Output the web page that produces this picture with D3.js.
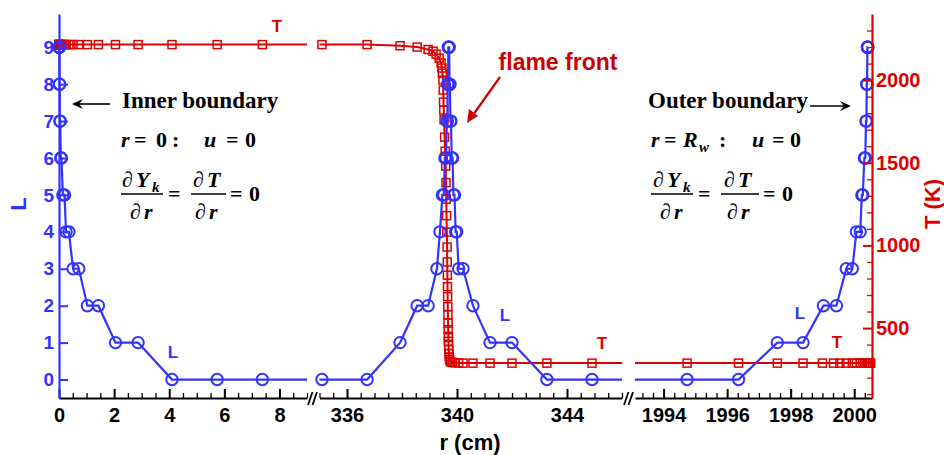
<!DOCTYPE html>
<html>
<head>
<meta charset="utf-8">
<script src="https://cdn.jsdelivr.net/npm/d3@7"></script>
<style>
  body { margin: 0; background: #fff; }
  svg text { font-family: "Liberation Sans", Arial, sans-serif; font-weight: bold; }
  svg text.math { font-family: "Liberation Serif", "Times New Roman", serif; font-weight: bold; }
</style>
</head>
<body>
<div id="chart"></div>
<script>
// broken r axis: three windows
var segDomains = [[0, 9], [335, 346], [1993.1, 2000.56]]
var segTicks = [[0, 2, 4, 6, 8], [336, 340, 344], [1994, 1996, 1998, 2000]]
var levelTicks = [0, 1, 2, 3, 4, 5, 6, 7, 8, 9]
var tempTicks = [500, 1000, 1500, 2000]

// L (refinement level) at the cell centres
var rL = [
  0.0016, 0.0048, 0.008, 0.0112, 0.016, 0.0224, 0.032, 0.045, 0.064, 0.09,
  0.14, 0.2, 0.256, 0.359, 0.51, 0.72, 1.03, 1.43, 2.05, 2.87, 4.1, 5.74, 7.38,
  335.09, 336.73, 337.93, 338.55, 338.95, 339.27, 339.38, 339.47, 339.52,
  339.56, 339.6, 339.63, 339.65, 339.665, 339.675, 339.685, 339.695, 339.705, 339.715,
  339.73, 339.745, 339.76, 339.78, 339.81, 339.84, 339.87, 339.91, 339.95, 339.99,
  340.06, 340.22, 340.58, 341.2, 342.0, 343.27, 344.91,
  1994.74, 1996.36, 1997.58, 1998.39, 1999.03, 1999.44, 1999.75, 1999.94,
  2000.07, 2000.19, 2000.24, 2000.27, 2000.32, 2000.35, 2000.37, 2000.385,
  2000.395, 2000.405, 2000.415, 2000.42, 2000.425, 2000.43
]
var levelL = [
  9, 9, 9, 9, 8, 8, 7, 7, 6, 6,
  5, 5, 4, 4, 3, 3, 2, 2, 1, 1, 0, 0, 0,
  0, 0, 1, 2, 2, 3, 4, 5, 5,
  6, 6, 7, 7, 8, 8, 9, 9, 9, 9,
  8, 8, 7, 7, 6, 6, 5, 5, 4, 4,
  3, 3, 2, 1, 1, 0, 0,
  0, 0, 1, 1, 2, 2, 3, 3,
  4, 4, 5, 5, 6, 6, 7, 7,
  8, 8, 9, 9, 9, 9
]

// temperature (K) at the cell centres
var rT = [
  0.0016, 0.0048, 0.008, 0.0112, 0.016, 0.0224, 0.032, 0.045, 0.064, 0.09,
  0.14, 0.2, 0.256, 0.359, 0.51, 0.72, 1.03, 1.43, 2.05, 2.87, 4.1, 5.74, 7.38,
  335.09, 336.73, 337.93, 338.55, 338.95, 339.13, 339.24, 339.35, 339.42, 339.45,
  339.47, 339.49, 339.5, 339.51, 339.52, 339.53, 339.55, 339.57, 339.59, 339.6,
  339.61, 339.62, 339.63, 339.64, 339.645, 339.65, 339.655, 339.66, 339.665, 339.67,
  339.675, 339.68, 339.685, 339.69, 339.695, 339.7, 339.71, 339.72, 339.73, 339.75,
  339.78, 339.84, 339.93, 340.06, 340.22, 340.58, 341.2, 342.0, 343.27, 344.91,
  1994.74, 1996.36, 1997.58, 1998.39, 1999.0, 1999.35, 1999.55, 1999.75, 1999.94,
  2000.07, 2000.19, 2000.26, 2000.32, 2000.37, 2000.41, 2000.44, 2000.47, 2000.5, 2000.52
]
var tempT = [
  2215, 2215, 2215, 2215, 2215, 2215, 2215, 2215, 2215, 2215,
  2215, 2215, 2215, 2215, 2215, 2215, 2215, 2215, 2215, 2215, 2215, 2215, 2215,
  2215, 2215, 2208, 2200, 2185, 2175, 2157, 2133, 2103, 2073,
  2042, 2000, 1940, 1867, 1819, 1760, 1655, 1570, 1480, 1380,
  1280, 1180, 1080, 990, 900, 820, 750, 690, 630, 580,
  530, 490, 450, 420, 395, 370, 345, 325, 310, 300,
  295, 292, 290, 289, 288, 288, 288, 288, 288, 288,
  288, 288, 288, 288, 288, 288, 288, 288, 288,
  288, 288, 288, 288, 288, 288, 288, 288, 288, 288
]

var colorL = "#3333ff"
var colorT = "#dd0000"

var dimensions = { width: 944, height: 455, left: 59, right: 872, top: 14, bottom: 398 }
var segRanges = [[59, 307], [319.5, 622], [635, 872]]
var segMinorStep = [0.5, 0.5, 1 / 3]

var svg = d3.select("#chart").append("svg")
  .attr("width", dimensions.width)
  .attr("height", dimensions.height)

var xScales = segDomains.map((d, i) => d3.scaleLinear().domain(d).range(segRanges[i]))
var yL = d3.scaleLinear().domain([-0.5, 9.9]).range([dimensions.bottom, dimensions.top])
var yT = d3.scaleLinear().domain([77, 2400]).range([dimensions.bottom, dimensions.top])

var ptsL = rL.map((r, i) => [r, levelL[i]])
var ptsT = rT.map((r, i) => [r, tempT[i]])

// clip each window so the lines stop at the breaks
var defs = svg.append("defs")
segRanges.forEach((rg, i) => {
  defs.append("clipPath").attr("id", "clip" + i)
    .append("rect")
    .attr("x", i == 0 ? rg[0] - 8 : rg[0])
    .attr("y", 0)
    .attr("width", rg[1] - rg[0] + (i == 0 ? 8 : 0))
    .attr("height", dimensions.height)
})

segDomains.forEach((dom, i) => {
  var x = xScales[i]
  var inside = p => p[0] >= dom[0] && p[0] <= dom[1]

  // T
  svg.append("path")
    .attr("clip-path", `url(#clip${i})`)
    .attr("d", d3.line().x(d => x(d[0])).y(d => yT(d[1]))(ptsT))
    .attr("fill", "none")
    .attr("stroke", colorT)
    .attr("stroke-width", 2)
  svg.append("g").selectAll("rect")
    .data(ptsT.filter(inside))
    .join("rect")
    .attr("x", d => x(d[0]) - 4)
    .attr("y", d => yT(d[1]) - 4)
    .attr("width", 8)
    .attr("height", 8)
    .attr("fill", "none")
    .attr("stroke", colorT)
    .attr("stroke-width", 1.5)
})

segDomains.forEach((dom, i) => {
  var x = xScales[i]
  var inside = p => p[0] >= dom[0] && p[0] <= dom[1]

  // L
  svg.append("path")
    .attr("clip-path", `url(#clip${i})`)
    .attr("d", d3.line().x(d => x(d[0])).y(d => yL(d[1]))(ptsL))
    .attr("fill", "none")
    .attr("stroke", colorL)
    .attr("stroke-width", 2.2)
  svg.append("g").selectAll("circle")
    .data(ptsL.filter(inside))
    .join("circle")
    .attr("cx", d => x(d[0]))
    .attr("cy", d => yL(d[1]))
    .attr("r", 5.7)
    .attr("fill", "none")
    .attr("stroke", colorL)
    .attr("stroke-width", 2)
})

// bottom axes, one per window
segDomains.forEach((dom, i) => {
  var x = xScales[i]
  var minor = d3.range(dom[0], dom[1] + 1e-6, segMinorStep[i])
    .map(v => Math.round(v * 1000) / 1000)
    .filter(v => !segTicks[i].includes(v))
  if (i == 2) minor = d3.range(1993 + 1 / 3, dom[1], 1 / 3).filter(v => v >= dom[0] && Math.abs(v - Math.round(v / 2) * 2) > 0.01)

  var ax = svg.append("g")
    .attr("transform", `translate(0,${dimensions.bottom})`)
    .call(d3.axisBottom(x).tickValues(segTicks[i]).tickFormat(d3.format("d"))
      .tickSizeInner(-9).tickSizeOuter(0).tickPadding(10))
  ax.selectAll("text").attr("font-size", 20).attr("fill", "#000").attr("font-family", null)
  ax.select(".domain").attr("stroke-width", 2)
  ax.selectAll(".tick line").attr("stroke-width", 2)

  var mx = svg.append("g")
    .attr("transform", `translate(0,${dimensions.bottom})`)
    .call(d3.axisBottom(x).tickValues(minor).tickSizeInner(-5).tickSizeOuter(0).tickFormat(""))
  mx.select(".domain").remove()
  mx.selectAll(".tick line").attr("stroke-width", 1.3)
})

// break marks
;[308, 624].forEach(bx => {
  [0, 4.5].forEach(off => {
    svg.append("line")
      .attr("x1", bx + off).attr("y1", 405)
      .attr("x2", bx + off + 4.5).attr("y2", 392)
      .attr("stroke", "#000").attr("stroke-width", 1.8)
  })
})

// L axis (left)
var axL = svg.append("g")
  .attr("transform", `translate(${dimensions.left},0)`)
  .call(d3.axisLeft(yL).tickValues(levelTicks).tickSizeInner(-9).tickSizeOuter(0).tickPadding(5))
axL.selectAll("text").attr("font-size", 19).attr("fill", colorL).attr("font-family", null)
axL.select(".domain").attr("stroke", colorL).attr("stroke-width", 2.2)
axL.selectAll(".tick line").attr("stroke", colorL).attr("stroke-width", 2)

// T axis (right)
var axT = svg.append("g")
  .attr("transform", `translate(${dimensions.right},0)`)
  .call(d3.axisRight(yT).tickValues(tempTicks).tickFormat(d3.format("d"))
    .tickSizeInner(-9).tickSizeOuter(0).tickPadding(4))
axT.selectAll("text").attr("font-size", 20).attr("fill", colorT).attr("font-family", null)
axT.select(".domain").attr("stroke", colorT).attr("stroke-width", 2.2)
axT.selectAll(".tick line").attr("stroke", colorT).attr("stroke-width", 2)
var axTm = svg.append("g")
  .attr("transform", `translate(${dimensions.right},0)`)
  .call(d3.axisRight(yT).tickValues(d3.range(100, 2400, 100).filter(v => !tempTicks.includes(v)))
    .tickSizeInner(-5).tickSizeOuter(0).tickFormat(""))
axTm.select(".domain").remove()
axTm.selectAll(".tick line").attr("stroke", colorT).attr("stroke-width", 1.3)

// axis titles
svg.append("text")
  .attr("transform", "translate(26,204) rotate(-90)")
  .attr("text-anchor", "middle")
  .attr("font-size", 22)
  .attr("fill", colorL)
  .text("L")
svg.append("text")
  .attr("transform", "translate(940,204) rotate(-90)")
  .attr("text-anchor", "middle")
  .attr("font-size", 22)
  .attr("fill", colorT)
  .text("T (K)")
svg.append("text")
  .attr("x", 470).attr("y", 450)
  .attr("text-anchor", "middle")
  .attr("font-size", 22)
  .attr("fill", "#000")
  .text("r (cm)")

// series labels
var seriesLabels = [
  ["T", 277, 32, colorT], ["L", 173, 358, colorL],
  ["L", 505, 321, colorL], ["T", 602, 349, colorT],
  ["L", 800, 319, colorL], ["T", 837, 348, colorT]
]
seriesLabels.forEach(s => {
  svg.append("text")
    .attr("x", s[1]).attr("y", s[2])
    .attr("text-anchor", "middle")
    .attr("font-size", 17)
    .attr("fill", s[3])
    .text(s[0])
})

// flame front
svg.append("text")
  .attr("x", 558).attr("y", 70)
  .attr("text-anchor", "middle")
  .attr("font-size", 23)
  .attr("fill", "#cc0000")
  .text("flame front")
svg.append("line")
  .attr("x1", 500).attr("y1", 77).attr("x2", 473).attr("y2", 115)
  .attr("stroke", "#cc0000").attr("stroke-width", 2.2)
svg.append("path")
  .attr("d", "M467,123 L469,109 L478,116 Z")
  .attr("fill", "#cc0000")

// boundary notes
function piece(x, y, t, italic, size) {
  return svg.append("text")
    .attr("class", "math")
    .attr("x", x).attr("y", y)
    .attr("font-size", size || 22)
    .attr("font-style", italic ? "italic" : null)
    .attr("fill", "#000")
    .text(t)
}
function fracBar(x1, x2, y) {
  svg.append("line")
    .attr("x1", x1).attr("x2", x2).attr("y1", y).attr("y2", y)
    .attr("stroke", "#000").attr("stroke-width", 1.6)
}
function arrow(x1, x2, y) {
  var dir = x2 > x1 ? 1 : -1
  svg.append("line")
    .attr("x1", x1).attr("x2", x2 - dir * 6).attr("y1", y).attr("y2", y)
    .attr("stroke", "#000").attr("stroke-width", 1.6)
  svg.append("path")
    .attr("d", `M${x2},${y} L${x2 - dir * 11},${y - 5} L${x2 - dir * 7},${y} L${x2 - dir * 11},${y + 5} Z`)
    .attr("fill", "#000")
}

// inner
piece(122, 108, "Inner boundary", false, 23)
arrow(110, 72, 104)
piece(121, 147, "r", true); piece(134, 147, "="); piece(156, 147, "0"); piece(172, 147, ":")
piece(204, 147, "u", true); piece(226, 147, "="); piece(245, 147, "0")
piece(122, 187, "\u2202", true); piece(136, 187, "Y", true); piece(152, 192, "k", true, 15)
fracBar(121, 163, 194)
piece(130, 219, "\u2202", true); piece(144, 219, "r", true)
piece(168, 201, "=")
piece(193, 187, "\u2202", true); piece(207, 187, "T", true)
fracBar(191, 226, 194)
piece(195, 219, "\u2202", true); piece(209, 219, "r", true)
piece(230, 201, "="); piece(249, 201, "0")

// outer
piece(648, 108, "Outer boundary", false, 23)
arrow(810, 851, 106)
piece(651, 147, "r", true); piece(664, 147, "="); piece(683, 147, "R", true)
piece(699, 152, "w", true, 15); piece(719, 147, ":")
piece(752, 147, "u", true); piece(772, 147, "="); piece(790, 147, "0")
piece(653, 187, "\u2202", true); piece(667, 187, "Y", true); piece(683, 192, "k", true, 15)
fracBar(651, 693, 194)
piece(660, 219, "\u2202", true); piece(674, 219, "r", true)
piece(698, 201, "=")
piece(724, 187, "\u2202", true); piece(738, 187, "T", true)
fracBar(721, 759, 194)
piece(727, 219, "\u2202", true); piece(741, 219, "r", true)
piece(763, 201, "="); piece(782, 201, "0")
</script>
</body>
</html>
